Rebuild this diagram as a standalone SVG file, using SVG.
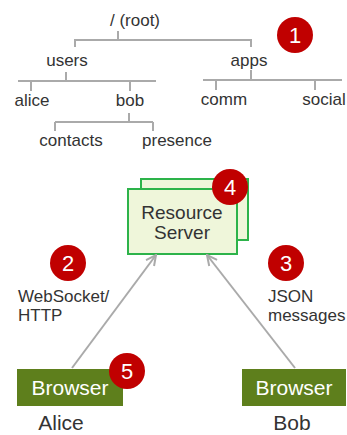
<svg xmlns="http://www.w3.org/2000/svg" width="347" height="435" viewBox="0 0 347 435">
<defs>
<style>
.t{font-family:"Liberation Sans",Arial,sans-serif;fill:#333}
.tree{font-size:17px}
.ln{stroke:#aaa;stroke-width:2;fill:none}
.badge circle{fill:#c00000}
.badge text{font-family:"Liberation Sans",Arial,sans-serif;font-size:22px;fill:#fff;text-anchor:middle}
.srv{fill:#eff6da;stroke:#2db34a;stroke-width:2}
.brw{fill:#5e7f1c}
.bt{font-family:"Liberation Sans",Arial,sans-serif;font-size:21px;fill:#fff;text-anchor:middle}
.mid{text-anchor:middle}
.lbl{font-size:17px}
</style>
<marker id="arr" viewBox="0 0 12 12" refX="11" refY="6" markerWidth="12" markerHeight="12" markerUnits="userSpaceOnUse" orient="auto">
<path d="M1,1 L11,6 L1,11" fill="none" stroke="#aaa" stroke-width="2"/>
</marker>
</defs>
<rect width="347" height="435" fill="#fff"/>
<g id="tree-lines">
<path class="ln" d="M118,31 V40 M75,47 V40 H251 V47"/>
<path class="ln" d="M66,72 V81 M18,81 H156 M31,81 V91 M130,81 V91"/>
<path class="ln" d="M251,70 V80 M203,80 H342 M216,80 V90 M315,80 V90"/>
<path class="ln" d="M129,113 V122 M55,122 H153 M55,122 V131 M153,122 V131"/>
</g>
<g id="n-root"><text class="t tree mid" x="135" y="26">/ (root)</text></g>
<g id="n-users"><text class="t tree mid" x="67" y="66">users</text></g>
<g id="n-apps"><text class="t tree mid" x="249" y="66">apps</text></g>
<g id="n-alice"><text class="t tree mid" x="32" y="106">alice</text></g>
<g id="n-bob"><text class="t tree mid" x="130" y="106">bob</text></g>
<g id="n-comm"><text class="t tree mid" x="224" y="105">comm</text></g>
<g id="n-social"><text class="t tree mid" x="324" y="105">social</text></g>
<g id="n-contacts"><text class="t tree mid" x="71" y="146">contacts</text></g>
<g id="n-presence"><text class="t tree mid" x="177" y="146">presence</text></g>
<g id="badge1" class="badge"><circle cx="295" cy="35" r="18"/><text x="295" y="43">1</text></g>

<g id="resource-server">
<rect class="srv" x="141" y="179" width="107" height="61"/>
<rect class="srv" x="128" y="189" width="109" height="65"/>
<text class="t mid" x="182" y="219" font-size="19">Resource</text>
<text class="t mid" x="182" y="239" font-size="19">Server</text>
</g>
<g id="badge4" class="badge"><circle cx="230" cy="187" r="18"/><text x="230" y="195">4</text></g>

<g id="connectors">
<line class="ln" x1="72" y1="368" x2="156" y2="255" marker-end="url(#arr)"/>
<line class="ln" x1="295" y1="368" x2="207" y2="255" marker-end="url(#arr)"/>
</g>

<g id="badge2" class="badge"><circle cx="68" cy="263" r="18"/><text x="68" y="271">2</text></g>
<g id="badge3" class="badge"><circle cx="286" cy="263" r="18"/><text x="286" y="271">3</text></g>
<g id="label-ws"><text class="t lbl" x="18" y="302">WebSocket/</text><text class="t lbl" x="18" y="321">HTTP</text></g>
<g id="label-json"><text class="t lbl" x="268" y="302">JSON</text><text class="t lbl" x="268" y="321">messages</text></g>

<g id="browser-alice">
<rect class="brw" x="17" y="369" width="106" height="37"/>
<text class="bt" x="70" y="395">Browser</text>
<text class="t mid" x="61" y="430" font-size="21">Alice</text>
</g>
<g id="badge5" class="badge"><circle cx="127" cy="371" r="18"/><text x="127" y="379">5</text></g>
<g id="browser-bob">
<rect class="brw" x="242" y="369" width="104" height="37"/>
<text class="bt" x="294" y="395">Browser</text>
<text class="t mid" x="292" y="430" font-size="21">Bob</text>
</g>
</svg>
